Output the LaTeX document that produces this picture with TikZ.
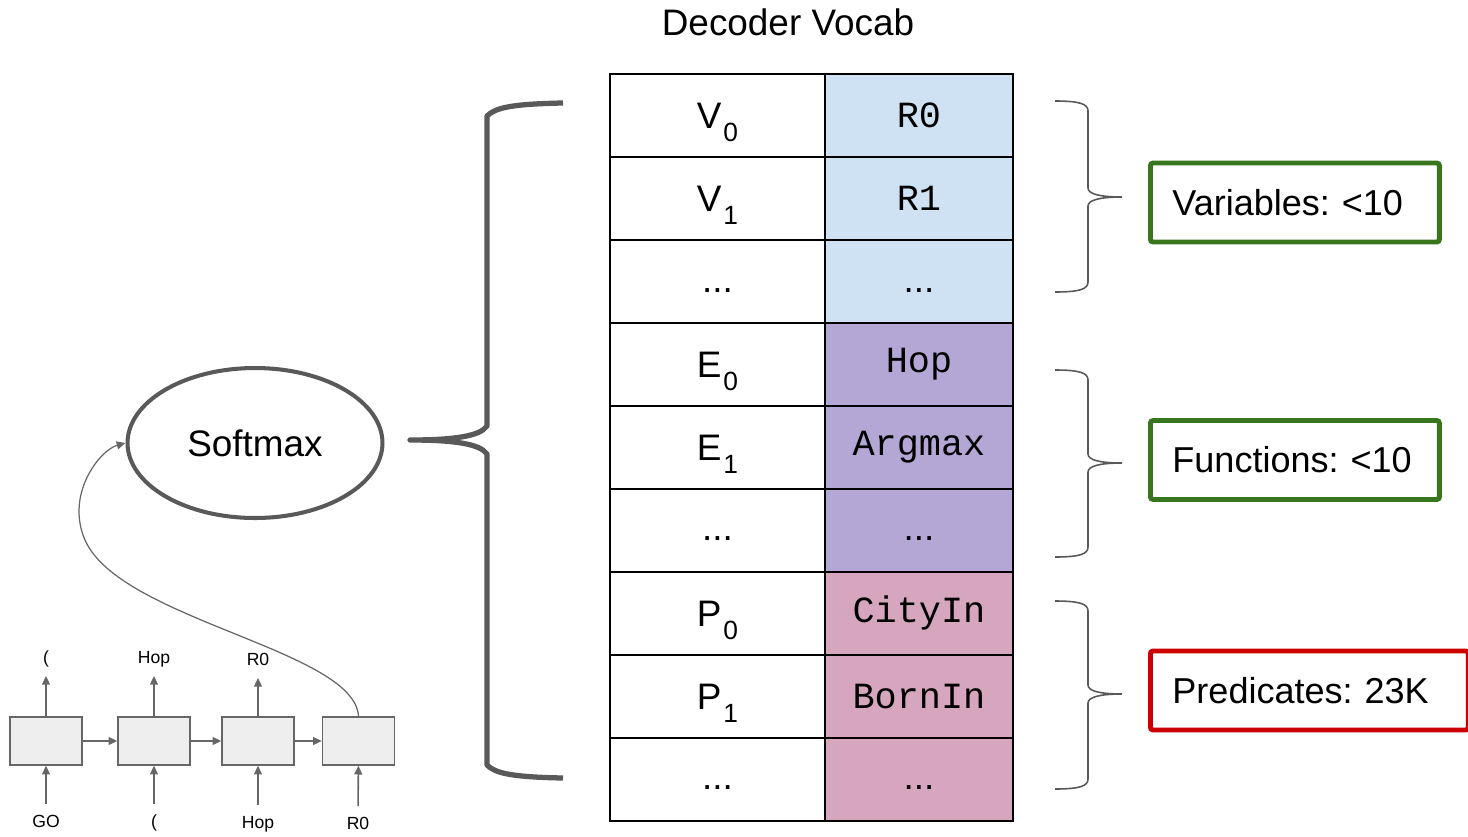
\documentclass[tikz,border=0pt]{standalone}
\usepackage{fontspec}
\setmainfont{Liberation Sans}
\setmonofont{Liberation Mono}
\usepackage{tikz}
\usetikzlibrary{positioning, shapes.geometric, arrows.meta}

\definecolor{varblue}{HTML}{CFE2F3}
\definecolor{funpurple}{HTML}{B4A7D6}
\definecolor{predpink}{HTML}{D5A6BD}
\definecolor{bracegray}{HTML}{595959}
\definecolor{rnngray}{HTML}{666666}
\definecolor{rnnfill}{HTML}{EEEEEE}
\definecolor{okgreen}{HTML}{38761D}
\definecolor{badred}{HTML}{CC0000}

% index set low, as in the slide
\newcommand{\lowsub}[1]{\kern1pt\raisebox{-0.36em}[0pt][0pt]{\fontsize{15}{15}\selectfont #1}}
\frenchspacing

\begin{document}
\begin{tikzpicture}[
    x=0.02cm, y=-0.02cm,
    node distance=0pt,
    cell/.style={draw, line width=1.1pt, outer sep=0pt, inner sep=0pt,
                 minimum width=4.3cm, minimum height=1.66cm,
                 font=\fontsize{21}{25}\selectfont},
    wordcell/.style={cell, minimum width=3.76cm,
                 font=\fontsize{21}{25}\selectfont\ttfamily},
    dotcell/.style={text height=12pt, text depth=0pt},
    countbox/.style={draw=okgreen, line width=2.8pt, rounded corners=1.5pt,
                 minimum height=1.58cm, text width=4.9cm, align=left,
                 inner xsep=0.44cm, anchor=west, font=\fontsize{20.5}{24}\selectfont},
    bigbrace/.style={draw=bracegray, line width=3pt, line join=round},
    smallbrace/.style={draw=bracegray, line width=0.9pt},
    rnncell/.style={draw=rnngray, fill=rnnfill, line width=0.8pt,
                 minimum width=1.44cm, minimum height=0.96cm},
    rnnlabel/.style={font=\fontsize{10}{12}\selectfont, text height=8pt,
                 text depth=2pt, inner sep=5pt},
    rnnarrow/.style={-{Triangle[length=5pt,width=4.5pt]}, draw=rnngray, line width=0.9pt}
]
\useasboundingbox (0,0) rectangle (1468,836);

\node[font=\fontsize{21}{25}\selectfont] (title) at (788,22) {Decoder Vocab};

% vocabulary table
\node[cell]                    (v0)     at (717.5,115.5) {V\lowsub{0}};
\node[cell, below=of v0]       (v1)     {V\lowsub{1}};
\node[cell, dotcell, below=of v1]    (vdots)  {...};
\node[cell, below=of vdots]    (e0)     {E\lowsub{0}};
\node[cell, below=of e0]       (e1)     {E\lowsub{1}};
\node[cell, dotcell, below=of e1]    (edots)  {...};
\node[cell, below=of edots]    (p0)     {P\lowsub{0}};
\node[cell, below=of p0]       (p1)     {P\lowsub{1}};
\node[cell, dotcell, below=of p1]    (pdots)  {...};

\node[wordcell, fill=varblue,   right=of v0]    (r0)     {R0};
\node[wordcell, fill=varblue,   right=of v1]    (r1)     {R1};
\node[wordcell, dotcell, fill=varblue,   right=of vdots] (rdots)  {\rmfamily ...};
\node[wordcell, fill=funpurple, right=of e0]    (hop)    {Hop};
\node[wordcell, fill=funpurple, right=of e1]    (argmax) {Argmax};
\node[wordcell, dotcell, fill=funpurple, right=of edots] (fdots)  {\rmfamily ...};
\node[wordcell, fill=predpink,  right=of p0]    (cityin) {CityIn};
\node[wordcell, fill=predpink,  right=of p1]    (bornin) {BornIn};
\node[wordcell, dotcell, fill=predpink,  right=of pdots] (bdots)  {\rmfamily ...};

% softmax over the whole vocabulary
\node[ellipse, draw=bracegray, line width=2.3pt, minimum width=5.1cm,
      minimum height=3cm, font=\fontsize{21}{25}\selectfont] (softmax) at (255,443) {Softmax};

\draw[bigbrace] (563,103) .. controls (510,104) and (495,108) .. (487,116) -- (487,426)
    .. controls (480,436) and (455,440) .. (410,440)
    .. controls (455,440) and (480,444) .. (487,454) -- (487,765)
    .. controls (495,773) and (510,777) .. (563,778);

% groups
\draw[smallbrace] (1055,101) .. controls (1080,101) and (1088,104) .. (1088,111) -- (1088,188)
    .. controls (1088,194) and (1100,197) .. (1122,197)
    .. controls (1100,197) and (1088,200) .. (1088,206) -- (1088,282)
    .. controls (1088,289) and (1080,292) .. (1055,292);
\draw[smallbrace] (1055,370) .. controls (1080,370) and (1088,373) .. (1088,380) -- (1088,454)
    .. controls (1088,460) and (1100,463) .. (1122,463)
    .. controls (1100,463) and (1088,466) .. (1088,472) -- (1088,547)
    .. controls (1088,554) and (1080,557) .. (1055,557);
\draw[smallbrace] (1055,601) .. controls (1080,601) and (1088,604) .. (1088,611) -- (1088,685)
    .. controls (1088,691) and (1100,694) .. (1122,694)
    .. controls (1100,694) and (1088,697) .. (1088,703) -- (1088,779)
    .. controls (1088,786) and (1080,789) .. (1055,789);

\node[countbox]                                  (vars)  at (1148,202.5) {Variables: <10};
\node[countbox]                                  (funcs) at (1148,460)   {Functions: <10};
\node[countbox, draw=badred, text width=5.48cm] (preds) at (1148,690.5) {Predicates: 23K};

% decoder rnn
\node[rnncell] (cell1) at (46,741)    {};
\node[rnncell] (cell2) at (154,741)   {};
\node[rnncell] (cell3) at (258,741)   {};
\node[rnncell] (cell4) at (358.5,741) {};

\node[rnnlabel] (out1) at (46,658)  {(};
\node[rnnlabel] (out2) at (154,658) {Hop};
\node[rnnlabel] (out3) at (258,660) {R0};

\node[rnnlabel] (in1) at (46,822)  {GO};
\node[rnnlabel] (in2) at (154,822) {(};
\node[rnnlabel] (in3) at (258,823) {Hop};
\node[rnnlabel] (in4) at (358,824) {R0};

\draw[rnnarrow] (cell1) -- (cell2);
\draw[rnnarrow] (cell2) -- (cell3);
\draw[rnnarrow] (cell3) -- (cell4);
\draw[rnnarrow] (cell1) -- (out1);
\draw[rnnarrow] (cell2) -- (out2);
\draw[rnnarrow] (cell3) -- (out3);
\draw[rnnarrow] (in1) -- (cell1);
\draw[rnnarrow] (in2) -- (cell2);
\draw[rnnarrow] (in3) -- (cell3);
\draw[rnnarrow] (in4) -- (cell4);

\draw[rnnarrow, line width=0.7pt] (cell4.north) .. controls (355,650) and (120,620) .. (85,540)
    .. controls (65,494) and (100,450) .. (softmax.west);
\end{tikzpicture}
\end{document}
